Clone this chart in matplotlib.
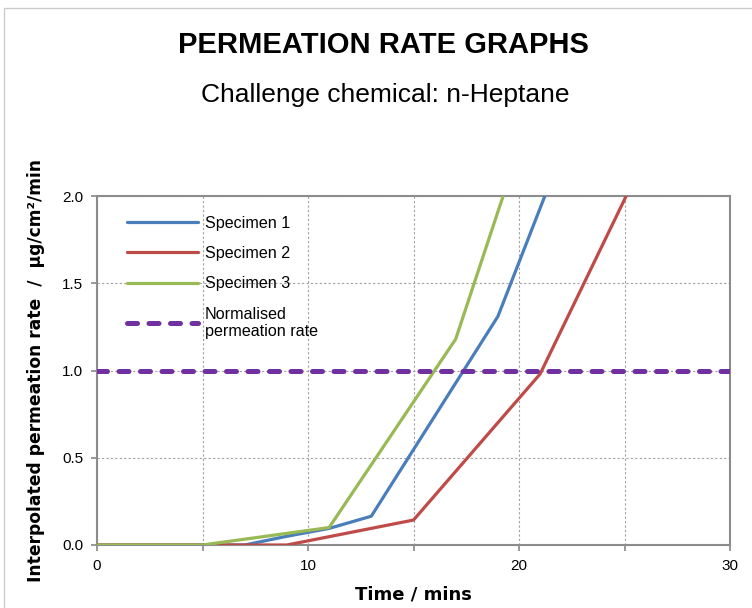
import matplotlib
matplotlib.use("Agg")
import matplotlib.pyplot as plt

plt.rcParams['font.family'] = ['Liberation Sans', 'DejaVu Sans']

# Data
spec1_t = [0, 7, 9, 11, 13, 19, 21, 23]
spec1_v = [0.0, 0.0, 0.05, 0.095, 0.165, 1.31, 1.93, 2.55]
spec2_t = [0, 9, 15, 21, 25, 27]
spec2_v = [0.0, 0.0, 0.143, 0.98, 1.98, 2.5]
spec3_t = [0, 5, 11, 17, 19, 21]
spec3_v = [0.0, 0.0, 0.1, 1.18, 1.91, 2.63]
norm_rate = 1.0
x_ticks = [0, 5, 10, 15, 20, 25, 30]
x_tick_labels = ['0', '', '10', '', '20', '', '30']
y_ticks = [0.0, 0.5, 1.0, 1.5, 2.0]
y_tick_labels = ['0.0', '0.5', '1.0', '1.5', '2.0']

fig = plt.figure(figsize=(7.52, 6.08), dpi=100)
ax = fig.add_axes([97/752, 1-545/608, (730-97)/752, (545-196)/608])

lw = 2.3
l1, = ax.plot(spec1_t, spec1_v, color='#4A7EBB', lw=lw, label='Specimen 1', solid_capstyle='round', zorder=3)
l2, = ax.plot(spec2_t, spec2_v, color='#BE4B48', lw=lw, label='Specimen 2', solid_capstyle='round', zorder=3)
l3, = ax.plot(spec3_t, spec3_v, color='#98B954', lw=lw, label='Specimen 3', solid_capstyle='round', zorder=4)
l4 = ax.axhline(norm_rate, color='#7030A0', lw=3.6, dashes=(2.0, 2.3), dash_capstyle='round',
                label='Normalised\npermeation rate', zorder=5)

ax.set_xlim(0, 30)
ax.set_ylim(0, 2.0)
ax.set_xticks(x_ticks)
ax.set_xticklabels(x_tick_labels)
ax.set_yticks(y_ticks)
ax.set_yticklabels(y_tick_labels)
ax.tick_params(labelsize=11, length=4, color='#888888', width=1.2, pad=6)
ax.grid(True, color='#a0a0a0', linestyle=(0, (2, 2)), linewidth=0.8)
for s in ax.spines.values():
    s.set_color('#8c8c8c')
    s.set_linewidth(1.5)

ax.set_xlabel('Time / mins', fontsize=13, fontweight='bold', labelpad=9,
              family=['DejaVu Sans'])
ax.set_ylabel('Interpolated permeation rate  /  µg/cm²/min', fontsize=12.3, fontweight='bold',
              labelpad=12, family=['DejaVu Sans'])

leg = ax.legend(handles=[l1, l2, l3, l4], loc='upper left', frameon=False, fontsize=11.6,
                handlelength=4.4, handletextpad=0.4, labelspacing=0.95,
                bbox_to_anchor=(0.025, 0.985))

fig.text(383/752, 1-45/608, 'PERMEATION RATE GRAPHS', fontsize=21, fontweight='bold', ha='center', va='center')
fig.text(385/752, 1-95/608, 'Challenge chemical: n-Heptane', fontsize=19, ha='center', va='center')

fig.patches.append(plt.Rectangle((4/752, -0.1), 1.2, 1.1 - 8/608, transform=fig.transFigure,
                                 fill=False, edgecolor='#cccccc', lw=1.0))

fig.savefig('out.png', dpi=100)
